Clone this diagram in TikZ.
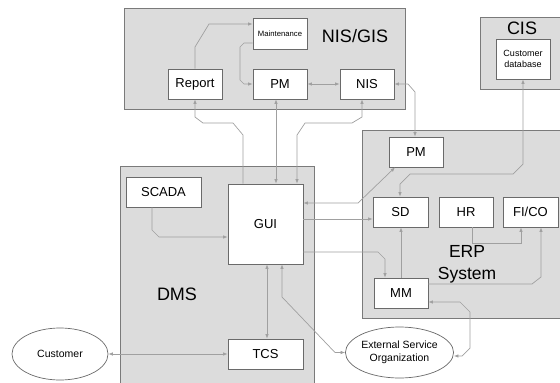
\documentclass[tikz,border=0pt]{standalone}
\usepackage{fontspec}
\setmainfont{Liberation Sans}
\usetikzlibrary{arrows.meta,shapes.geometric}
\definecolor{groupfill}{HTML}{DCDCDC}
\definecolor{groupline}{HTML}{7A7A7A}
\definecolor{boxline}{HTML}{6A6A6A}
\definecolor{connline}{HTML}{A0A0A0}
\tikzset{
  group/.style={draw=groupline,fill=groupfill,line width=0.9pt},
  grouplabel/.style={font=\fontsize{18}{21}\selectfont,inner sep=0pt,align=center},
  unit/.style={draw=boxline,fill=white,line width=0.8pt,inner sep=0pt,
    minimum width=54pt,minimum height=30pt,font=\fontsize{13}{15}\selectfont,align=center},
  actor/.style={ellipse,draw=boxline,fill=white,line width=0.7pt,inner sep=0pt,
    font=\fontsize{10.5}{12.5}\selectfont,align=center},
  conn/.style={draw=connline,line width=0.7pt},
  tip/.tip={Latex[length=4.5pt,width=3.5pt,color=connline]},
}
\begin{document}
\begin{tikzpicture}[x=1pt,y=-1pt]
\useasboundingbox (0,0) rectangle (560,383);

% system groups
\draw[group] (124,8) rectangle (405,109);
\draw[group] (480,17) rectangle (566,89);
\draw[group] (362,130) rectangle (566,318);
\draw[group] (120,166) rectangle (314,392);

\node[grouplabel] (lnis) at (355,36) {NIS/GIS};
\node[grouplabel] (lcis) at (522,28) {CIS};
\node[grouplabel] (ldms) at (177,294) {DMS};
\node[grouplabel,font=\fontsize{17.5}{22}\selectfont] (lerp) at (467,264) {ERP\\System};

% NIS/GIS units
\node[unit,minimum height=31pt,font=\fontsize{7.7}{9}\selectfont] (maint) at (280,33.5) {Maintenance};
\node[unit] (report) at (195,84) {Report};
\node[unit] (pmn) at (280,84) {PM};
\node[unit] (nis) at (367,84) {NIS};

% CIS unit
\node[unit,minimum height=40pt,font=\fontsize{9}{11}\selectfont] (custdb) at (523,59) {Customer\\database};

% ERP units
\node[unit] (pme) at (416,152) {PM};
\node[unit,minimum width=55pt] (sd) at (400.5,212) {SD};
\node[unit] (hr) at (466,212) {HR};
\node[unit,minimum width=55pt] (fico) at (530.5,212) {FI/CO};
\node[unit] (mm) at (401,293) {MM};

% DMS units
\node[unit,minimum width=75pt] (scada) at (163.5,192) {SCADA};
\node[unit,minimum width=75pt,minimum height=80pt] (gui) at (265.5,224) {GUI};
\node[unit,minimum width=75pt] (tcs) at (265.5,354) {TCS};

% external actors
\node[actor,minimum width=96pt,minimum height=52pt] (cust) at (60,354) {Customer};
\node[actor,minimum width=97pt,minimum height=51pt] (ext) at (399.5,352.5) {External Service\\Organization};

% connectors inside NIS/GIS
\draw[conn,-tip] (report.north) -- (195,47) -- (209,24) -- ([yshift=9.5pt]maint.west);
\draw[conn,-tip] ([yshift=-9.5pt]maint.west) -- (244,43) -- (240,47) -- (240,80) -- (244,84) -- (pmn.west);
\draw[conn,tip-tip] (pmn.east) -- (nis.west);

% NIS/GIS to DMS
\draw[conn,tip-] (report.south) -- (195,117) -- (203,123) -- (233,123) -- (243,135) -- ([xshift=-22.5pt]gui.north);
\draw[conn,tip-tip] ([xshift=-4pt]pmn.south) -- ([xshift=10.5pt]gui.north);
\draw[conn,tip-tip] ([xshift=-5pt]nis.south) -- (362,117) -- (352,123) -- (305,123) -- (297,135) -- ([xshift=31.5pt]gui.north);

% NIS/GIS and CIS to ERP
\draw[conn,tip-tip] (nis.east) -- (408,84) -- (415,92) -- ([xshift=-1pt]pme.north);
\draw[conn,tip-tip] (custdb.south) -- (523,164) -- (513,174) -- (410,174) -- (400,184) -- ([xshift=-0.5pt]sd.north);

% DMS to ERP
\draw[conn,tip-tip] ([yshift=21pt]gui.east) -- (358,203) -- ([xshift=-21pt]pme.south);
\draw[conn,-tip] ([yshift=5pt]gui.east) -- ([yshift=-7pt]sd.west);
\draw[conn,-tip] ([yshift=-28pt]gui.east) -- (378,252) -- (385,259) -- ([xshift=-16pt]mm.north);

% inside ERP
\draw[conn,-tip] (mm.north) -- (mm.north |- sd.south);
\draw[conn,-tip] ([xshift=6pt]hr.south) -- (472,243) -- (521,243) -- ([xshift=-9.5pt]fico.south);
\draw[conn,-tip] ([yshift=9pt]mm.east) -- (532,284) -- (541,277) -- ([xshift=10.5pt]fico.south);

% external links
\draw[conn,tip-tip] ([yshift=-9pt]mm.east) -- (460,302) -- (470,312) -- (470,348) -- (462,356) -- ([yshift=-3.5pt]ext.east);
\draw[conn,tip-tip] ([xshift=16.5pt]gui.south) -- (282,297) -- (335,352.5) -- (ext.west);

% inside DMS
\draw[conn,-tip] ([xshift=-11.5pt]scada.south) -- (152,230) -- (159,237) -- ([yshift=-13pt]gui.west);
\draw[conn,tip-tip] ([xshift=1.5pt]gui.south) -- ([xshift=1.5pt]tcs.north);
\draw[conn,tip-tip] (cust.east) -- (tcs.west);
\end{tikzpicture}
\end{document}
